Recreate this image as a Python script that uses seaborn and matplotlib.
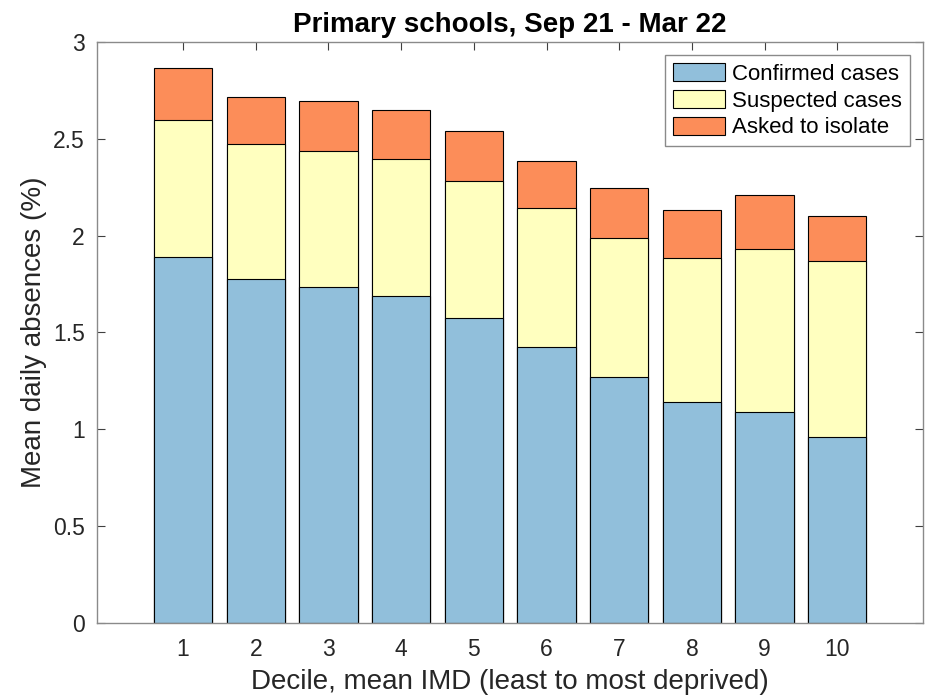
import matplotlib
matplotlib.use("Agg")
import matplotlib.pyplot as plt
from matplotlib.patches import Patch
import numpy as np
import pandas as pd
import seaborn as sns

# Mean daily absences (%) by IMD decile, primary schools Sep 21 - Mar 22
deciles = [1, 2, 3, 4, 5, 6, 7, 8, 9, 10]
confirmed = [1.887, 1.777, 1.736, 1.689, 1.572, 1.422, 1.269, 1.142, 1.090, 0.958]
suspected = [0.710, 0.694, 0.699, 0.705, 0.711, 0.719, 0.720, 0.740, 0.839, 0.912]
isolate = [0.270, 0.243, 0.258, 0.253, 0.257, 0.242, 0.256, 0.248, 0.280, 0.232]

series_names = ["Confirmed cases", "Suspected cases", "Asked to isolate"]
series_colors = ["#91bfdb", "#ffffbf", "#fc8d59"]

sns.set_theme(style="white")
plt.rcParams["font.family"] = ["Liberation Sans", "DejaVu Sans"]

df = pd.DataFrame({
    "decile": deciles,
    "confirmed": confirmed,
    "suspected": suspected,
    "isolate": isolate,
})
# cumulative tops for the stacked bars
df["top_confirmed"] = df["confirmed"]
df["top_suspected"] = df["confirmed"] + df["suspected"]
df["top_isolate"] = df["top_suspected"] + df["isolate"]

fig = plt.figure(figsize=(9.33, 6.95), dpi=100)
ax = fig.add_axes([0.1043, 0.104, 0.8850, 0.8357])

# draw tallest stack level first so lower segments sit on top
for col, color in zip(["top_isolate", "top_suspected", "top_confirmed"],
                      series_colors[::-1]):
    sns.barplot(data=df, x="decile", y=col, native_scale=True, width=0.8,
                color=color, saturation=1, edgecolor="black", linewidth=0.8,
                ax=ax)

ax.set_xlim(-0.18, 11.18)
ax.set_ylim(0, 3)
ax.set_xticks(deciles)
ax.set_xticklabels([str(d) for d in deciles])
yt = [0, 0.5, 1, 1.5, 2, 2.5, 3]
ax.set_yticks(yt)
ax.set_yticklabels(["0", "0.5", "1", "1.5", "2", "2.5", "3"])

txt_color = "#262626"
ax.tick_params(axis="both", which="both", direction="in", length=6, width=0.8,
               color="#404040", labelsize=16.5, labelcolor=txt_color,
               top=True, right=True, bottom=True, left=True)
ax.tick_params(axis="x", pad=11)
ax.tick_params(axis="y", pad=9)
for s in ax.spines.values():
    s.set_visible(True)
    s.set_color("#8a8a8a")
    s.set_linewidth(1.0)

ax.set_xlabel("Decile, mean IMD (least to most deprived)", fontsize=20,
              color=txt_color, labelpad=6)
ax.set_ylabel("Mean daily absences (%)", fontsize=20, color=txt_color,
              labelpad=4)
ax.set_title("Primary schools, Sep 21 - Mar 22", fontsize=20, fontweight="bold",
             color="black", pad=7)

handles = [Patch(facecolor=c, edgecolor="black", linewidth=0.8)
           for c in series_colors]
leg = ax.legend(handles, series_names, loc="upper right", fontsize=16,
                frameon=True, fancybox=False, framealpha=1, edgecolor="#8a8a8a",
                handlelength=2.35, handleheight=0.9, labelspacing=0.22,
                handletextpad=0.3, borderpad=0.35, borderaxespad=0.6)
leg.get_frame().set_linewidth(1.0)
for t in leg.get_texts():
    t.set_color("black")

fig.savefig("out.png", dpi=100)
